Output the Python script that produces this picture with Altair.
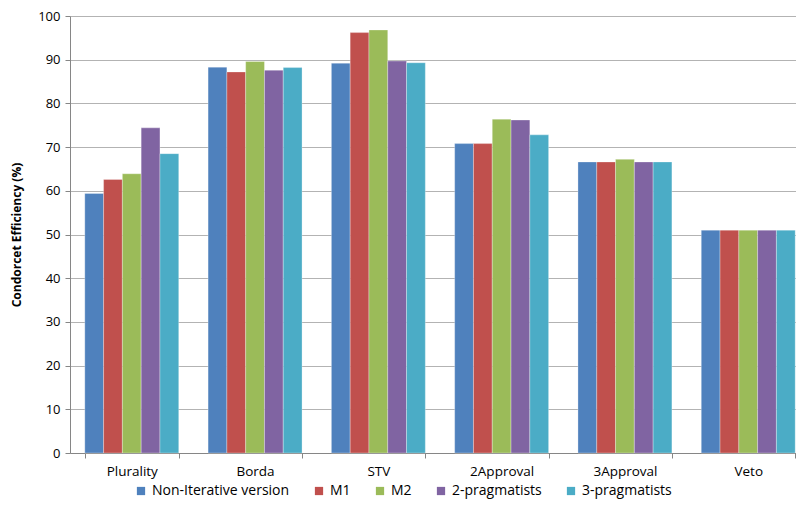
import altair as alt
import pandas as pd

methods = ["Plurality", "Borda", "STV", "2Approval", "3Approval", "Veto"]
series = ["Non-Iterative version", "M1", "M2", "2-pragmatists", "3-pragmatists"]
colors = ["#4F81BD", "#C0504D", "#9BBB59", "#8064A2", "#4BACC6"]

non_iterative = [59.4, 88.3, 89.2, 70.8, 66.6, 51.0]
m1 = [62.6, 87.2, 96.2, 70.8, 66.6, 51.0]
m2 = [63.9, 89.6, 96.8, 76.4, 67.2, 51.0]
prag2 = [74.4, 87.6, 89.7, 76.2, 66.6, 51.0]
prag3 = [68.5, 88.2, 89.3, 72.8, 66.6, 51.0]

values = [non_iterative, m1, m2, prag2, prag3]
rows = []
for s, vals in zip(series, values):
    for m, v in zip(methods, vals):
        rows.append({"method": m, "series": s, "value": v})
df = pd.DataFrame(rows)

font = "Open Sans"

chart = alt.Chart(df).mark_bar(stroke="#ffffff", strokeWidth=0.5, strokeOpacity=0.6).encode(
    x=alt.X("method:N", sort=methods, title=None,
            scale=alt.Scale(range=[0, 740], paddingInner=0.238, paddingOuter=0.12),
            axis=alt.Axis(labelAngle=0, labelFontSize=13.5, labelColor="#000000", labelFont=font,
                          tickBand="extent", tickSize=5, tickColor="#868686",
                          domainColor="#868686", labelPadding=6)),
    xOffset=alt.XOffset("series:N", sort=series),
    y=alt.Y("value:Q", title="Condorcet Efficiency (%)",
            scale=alt.Scale(domain=[0, 100], nice=False),
            axis=alt.Axis(values=list(range(0, 101, 10)), labelFontSize=13, labelColor="#000000",
                          labelFont=font, titleFont=font, titleFontSize=12, titleFontWeight="bold",
                          titleColor="#000000", tickColor="#868686", tickSize=5, domainColor="#868686",
                          gridColor="#b3b3b3", grid=True, titlePadding=14, labelPadding=5)),
    color=alt.Color("series:N", sort=series, scale=alt.Scale(domain=series, range=colors),
                    legend=alt.Legend(title=None, orient="none", direction="horizontal",
                                      legendX=64, legendY=468, padding=0, symbolType="square",
                                      symbolSize=68, labelFontSize=14, labelFont=font,
                                      labelColor="#000000", columnPadding=22, symbolStrokeWidth=0,
                                      labelOffset=4)),
).properties(
    width=726, height=437,
    autosize=alt.AutoSizeParams(type="none"),
    padding={"left": 62, "top": 8, "right": 0, "bottom": 48},
).configure_view(stroke=None).configure_axisX(grid=False)

chart.save("out.html", embed_options={"renderer": "svg", "actions": False})
